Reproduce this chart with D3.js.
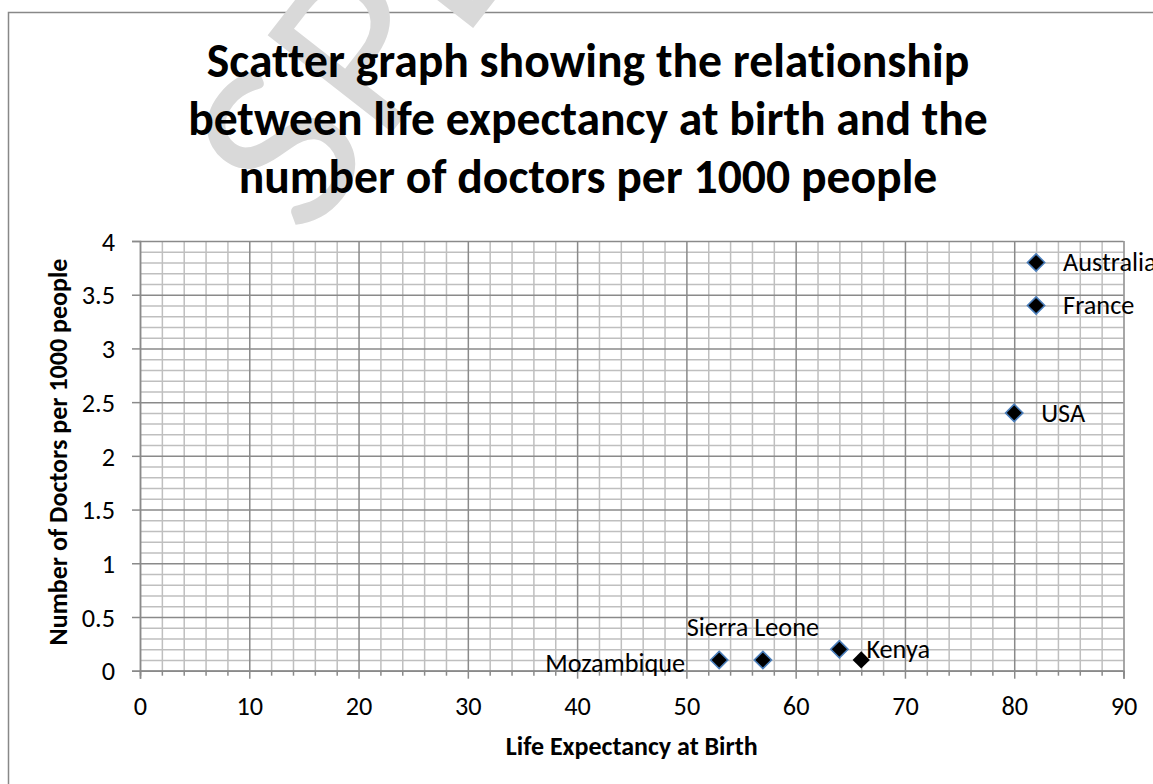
<!DOCTYPE html>
<html>
<head>
<meta charset="utf-8">
<script src="https://cdn.jsdelivr.net/npm/d3@7"></script>
<style>
  body { margin: 0; background: #fff; }
  svg { display: block; }
  text { font-family: Carlito, Calibri, Lato, "Open Sans", sans-serif; font-variant-ligatures: none; }
</style>
</head>
<body>
<div id="chart"></div>
<script>
// data
var countries = ["Mozambique", "Sierra Leone", "Kenya", "USA", "France", "Australia"];
var lifeExpectancy = [53, 57, 64, 80, 82, 82];
var doctorsPer1000 = [0.1, 0.1, 0.2, 2.4, 3.4, 3.8];
// one extra marker with no label and no outline
var extraLife = [66];
var extraDoctors = [0.1];

var xTickValues = [0, 10, 20, 30, 40, 50, 60, 70, 80, 90];
var yTickValues = [0, 0.5, 1, 1.5, 2, 2.5, 3, 3.5, 4];
var titleLines = ["Scatter graph showing the relationship",
                  "between life expectancy at birth and the",
                  "number of doctors per 1000 people"];
var xTitle = "Life Expectancy at Birth";
var yTitle = "Number of Doctors per 1000 people";

// where each data label sits relative to its marker
var labelPlace = {
  "Mozambique":   {pos: "left",  dy: 3},
  "Sierra Leone": {pos: "above", dx: -10},
  "Kenya":        {pos: "right"},
  "USA":          {pos: "right"},
  "France":       {pos: "right"},
  "Australia":    {pos: "right"}
};

var W = 1153, H = 784;
var plot = {left: 140, right: 1123.5, top: 241, bottom: 670.7};

var svg = d3.select("#chart").append("svg")
    .attr("width", W)
    .attr("height", H);

// chart frame
svg.append("rect")
   .attr("x", 8.5).attr("y", 12.5)
   .attr("width", 1300).attr("height", 900)
   .attr("fill", "#fff")
   .attr("stroke", "#888")
   .attr("stroke-width", 1.5);

// watermark behind everything
svg.append("text")
   .attr("transform", "translate(306,242) rotate(-52)")
   .attr("font-size", 220)
   .attr("fill", "#d9d9d9")
   .style("font-family", "Lato, 'Open Sans', sans-serif")
   .text("SPECIMEN");

// fit a text to a width by changing its font size
function fitSize(str, weight, width) {
  var t = svg.append("text")
      .attr("font-size", 100)
      .attr("font-weight", weight)
      .text(str);
  var len = t.node().getComputedTextLength();
  t.remove();
  return 100 * width / len;
}

var titleSize = fitSize(titleLines[1], "bold", 800);
var labelSize = fitSize("Mozambique", "normal", 140);
var axisTitleSize = fitSize(yTitle, "bold", 387);

// title
var titleBase = [77, 135, 193];
svg.append("g").selectAll("text")
   .data(titleLines)
   .enter().append("text")
   .attr("x", 588)
   .attr("y", function(d, i) { return titleBase[i]; })
   .attr("text-anchor", "middle")
   .attr("font-weight", "bold")
   .attr("font-size", titleSize)
   .attr("fill", "#000")
   .text(function(d) { return d; });

var x = d3.scaleLinear().domain([0, 90]).range([plot.left, plot.right]);
var y = d3.scaleLinear().domain([0, 4]).range([plot.bottom, plot.top]);
var pw = plot.right - plot.left, ph = plot.bottom - plot.top;

var xMinor = d3.range(0, 91, 2).filter(function(v) { return v % 10 != 0; });
var yMinor = d3.range(0, 41, 1).map(function(v) { return v / 10; })
               .filter(function(v) { return Math.round(v * 10) % 5 != 0; });

// minor grid
svg.append("g")
   .attr("class", "grid minor")
   .attr("transform", "translate(0," + plot.bottom + ")")
   .call(d3.axisBottom(x).tickValues(xMinor).tickSize(-ph).tickFormat(""));
svg.append("g")
   .attr("class", "grid minor")
   .attr("transform", "translate(" + plot.left + ",0)")
   .call(d3.axisLeft(y).tickValues(yMinor).tickSize(-pw).tickFormat(""));

// major grid
svg.append("g")
   .attr("class", "grid major")
   .attr("transform", "translate(0," + plot.bottom + ")")
   .call(d3.axisBottom(x).tickValues(xTickValues).tickSize(-ph).tickFormat(""));
svg.append("g")
   .attr("class", "grid major")
   .attr("transform", "translate(" + plot.left + ",0)")
   .call(d3.axisLeft(y).tickValues(yTickValues).tickSize(-pw).tickFormat(""));

svg.selectAll(".grid .domain").remove();
svg.selectAll(".grid.minor line").attr("stroke", "#bfbfbf").attr("stroke-width", 1.5);
svg.selectAll(".grid.major line").attr("stroke", "#8a8a8a").attr("stroke-width", 1.5);

// x axis: minor ticks, then major ticks with labels
svg.append("g")
   .attr("class", "axis")
   .attr("transform", "translate(0," + plot.bottom + ")")
   .call(d3.axisBottom(x).tickValues(xMinor).tickSize(5).tickFormat(""));
var xAxis = svg.append("g")
   .attr("class", "axis")
   .attr("transform", "translate(0," + plot.bottom + ")")
   .call(d3.axisBottom(x).tickValues(xTickValues).tickSize(8).tickPadding(18).tickFormat(d3.format("d")));

var yAxis = svg.append("g")
   .attr("class", "axis")
   .attr("transform", "translate(" + plot.left + ",0)")
   .call(d3.axisLeft(y).tickValues(yTickValues).tickSize(8).tickPadding(17).tickFormat(function(d) { return String(d); }));

svg.selectAll(".axis .domain").attr("stroke", "#8a8a8a").attr("stroke-width", 1.5);
svg.selectAll(".axis line").attr("stroke", "#8a8a8a").attr("stroke-width", 1.5);
svg.selectAll(".axis text")
   .attr("font-size", labelSize)
   .attr("fill", "#000")
   .style("font-family", "Carlito, Calibri, Lato, 'Open Sans', sans-serif");
xAxis.selectAll("text").attr("dy", "0.71em");
yAxis.selectAll("text").attr("dy", "0.35em");

// axis titles
svg.append("text")
   .attr("x", (plot.left + plot.right) / 2)
   .attr("y", 755)
   .attr("text-anchor", "middle")
   .attr("font-weight", "bold")
   .attr("font-size", axisTitleSize)
   .text(xTitle);
svg.append("text")
   .attr("transform", "translate(67,452) rotate(-90)")
   .attr("text-anchor", "middle")
   .attr("font-weight", "bold")
   .attr("font-size", axisTitleSize)
   .text(yTitle);

// markers
var points = countries.map(function(c, i) {
  return {name: c, x: lifeExpectancy[i], y: doctorsPer1000[i]};
});
var extra = extraLife.map(function(v, i) { return {x: v, y: extraDoctors[i]}; });

var diamond = d3.symbol().type(d3.symbolDiamond2).size(190);

svg.append("g").selectAll("path")
   .data(extra)
   .enter().append("path")
   .attr("d", diamond)
   .attr("transform", function(d) { return "translate(" + x(d.x) + "," + y(d.y) + ")"; })
   .attr("fill", "#000");

svg.append("g").selectAll("path")
   .data(points)
   .enter().append("path")
   .attr("d", diamond)
   .attr("transform", function(d) { return "translate(" + x(d.x) + "," + y(d.y) + ")"; })
   .attr("fill", "#000")
   .attr("stroke", "#4a7ebb")
   .attr("stroke-width", 1.6);

// data labels
svg.append("g").selectAll("text")
   .data(points)
   .enter().append("text")
   .attr("font-size", labelSize)
   .attr("fill", "#000")
   .attr("dominant-baseline", "central")
   .attr("text-anchor", function(d) {
     var p = labelPlace[d.name].pos;
     return (p == "left") ? ("end") : ((p == "above") ? ("middle") : ("start"));
   })
   .attr("x", function(d) {
     var p = labelPlace[d.name];
     var off = (p.pos == "left") ? (-34) : ((p.pos == "right") ? (27) : (0));
     return x(d.x) + off + (p.dx || 0);
   })
   .attr("y", function(d) {
     var p = labelPlace[d.name];
     var off = (p.pos == "above") ? (-33) : (0);
     return y(d.y) + off + (p.dy || 0);
   })
   .text(function(d) { return d.name; });
</script>
</body>
</html>
